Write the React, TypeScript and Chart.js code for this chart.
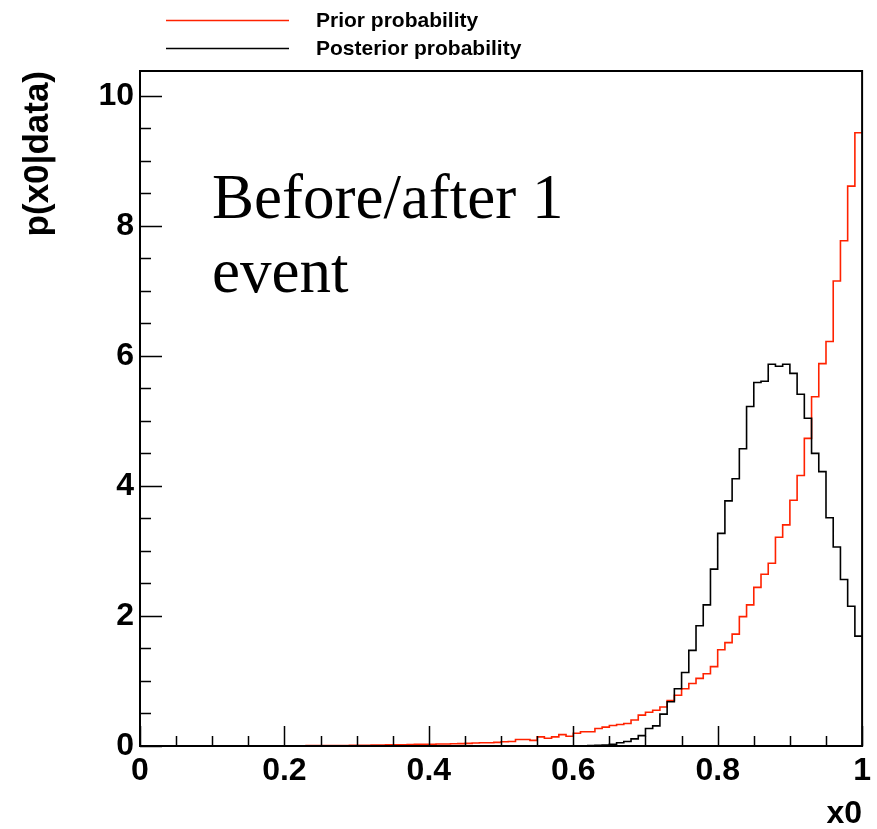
import React, { useEffect, useRef } from 'react';
import { Chart, registerables } from 'chart.js';

Chart.register(...registerables);

// ---- data ----
const X_MIN = 0;
const X_MAX = 1;
const Y_MIN = 0;
const Y_MAX = 10.38;

const priorValues = [
  0.0004, 0.0005, 0.0005, 0.0006, 0.0007, 0.0008, 0.0008, 0.001, 0.0011, 0.0012,
  0.0013, 0.0015, 0.0017, 0.0018, 0.002, 0.0023, 0.0025, 0.0028, 0.003, 0.0034,
  0.0038, 0.0042, 0.0047, 0.0052, 0.0058, 0.0063, 0.007, 0.0078, 0.0086, 0.0095,
  0.011, 0.012, 0.013, 0.015, 0.017, 0.018, 0.02, 0.022, 0.025, 0.026,
  0.028, 0.03, 0.031, 0.035, 0.036, 0.04, 0.045, 0.05, 0.05, 0.056,
  0.065, 0.07, 0.10, 0.10, 0.087, 0.14, 0.12, 0.14, 0.175, 0.15,
  0.195, 0.22, 0.22, 0.27, 0.29, 0.315, 0.33, 0.345, 0.40, 0.475,
  0.52, 0.55, 0.60, 0.70, 0.78, 0.88, 0.96, 1.04, 1.11, 1.22,
  1.48, 1.59, 1.72, 1.99, 2.17, 2.44, 2.64, 2.81, 3.21, 3.40,
  3.78, 4.16, 4.73, 5.37, 5.88, 6.22, 7.15, 7.77, 8.61, 9.43,
];

const posteriorValues = [
  0, 0, 0, 0, 0, 0, 0, 0, 0, 0,
  0, 0, 0, 0, 0, 0, 0, 0, 0, 0,
  0, 0, 0, 0, 0, 0, 0, 0, 0, 0,
  0, 0, 0, 0, 0, 0, 0, 0, 0, 0,
  0, 0, 0, 0, 0, 0, 0, 0, 0, 0,
  0, 0, 0, 0, 0, 0, 0, 0, 0, 0,
  0, 0.003, 0.005, 0.01, 0.015, 0.025, 0.05, 0.07, 0.11, 0.16,
  0.27, 0.31, 0.49, 0.68, 0.88, 1.13, 1.47, 1.85, 2.17, 2.72,
  3.27, 3.77, 4.11, 4.57, 5.22, 5.59, 5.61, 5.87, 5.84, 5.87,
  5.73, 5.41, 5.04, 4.50, 4.22, 3.51, 3.06, 2.56, 2.15, 1.69,
];

const xTickValues = [0, 0.2, 0.4, 0.6, 0.8, 1];
const yTickValues = [0, 2, 4, 6, 8, 10];
const X_MINOR_STEP = 0.05;
const Y_MINOR_STEP = 0.5;

const seriesLabels = ['Prior probability', 'Posterior probability'];
const seriesColors = ['#ff2200', '#000000'];
const annotationLines = ['Before/after 1', 'event'];
const xTitle = 'x0';
const yTitle = 'p(x0|data)';

function toSteps(values: number[]) {
  const w = (X_MAX - X_MIN) / values.length;
  const pts = values.map((v, i) => ({ x: X_MIN + i * w, y: v }));
  pts.push({ x: X_MAX, y: values[values.length - 1] });
  return pts;
}

const SANS = '"Liberation Sans", Arial, Helvetica, sans-serif';
const SERIF = '"Liberation Serif", "Times New Roman", serif';

const decorPlugin = {
  id: 'decor',
  afterDatasetsDraw(chart: any) {
    const { ctx, chartArea: a, scales } = chart;
    const x = scales.x;
    const y = scales.y;
    ctx.save();
    ctx.strokeStyle = '#000';
    ctx.lineWidth = 1.5;
    ctx.beginPath();
    // y ticks (inside)
    const nY = Math.round((yTickValues[yTickValues.length - 1] - Y_MIN) / Y_MINOR_STEP);
    for (let k = 0; k <= nY; k++) {
      const v = Y_MIN + k * Y_MINOR_STEP;
      if (v > Y_MAX) break;
      const py = Math.round(y.getPixelForValue(v)) + 0.5;
      const major = yTickValues.some((t) => Math.abs(t - v) < 1e-9);
      const len = major ? 22 : 11;
      ctx.moveTo(a.left, py);
      ctx.lineTo(a.left + len, py);
    }
    // x ticks (inside)
    const nX = Math.round((X_MAX - X_MIN) / X_MINOR_STEP);
    for (let k = 0; k <= nX; k++) {
      const v = X_MIN + k * X_MINOR_STEP;
      const px = Math.round(x.getPixelForValue(v)) + 0.5;
      const major = xTickValues.some((t) => Math.abs(t - v) < 1e-9);
      const len = major ? 20 : 10;
      ctx.moveTo(px, a.bottom);
      ctx.lineTo(px, a.bottom - len);
    }
    ctx.stroke();
    // frame
    ctx.lineWidth = 2;
    ctx.strokeRect(a.left, a.top, a.right - a.left, a.bottom - a.top);

    // legend
    ctx.font = `bold 21px ${SANS}`;
    ctx.textBaseline = 'alphabetic';
    ctx.textAlign = 'left';
    const legendY = [20.5, 48.5];
    seriesLabels.forEach((lab, i) => {
      ctx.strokeStyle = seriesColors[i];
      ctx.lineWidth = 1.5;
      ctx.beginPath();
      ctx.moveTo(166, legendY[i]);
      ctx.lineTo(289, legendY[i]);
      ctx.stroke();
      ctx.fillStyle = '#000';
      ctx.fillText(lab, 316, legendY[i] + 6.5);
    });

    // annotation
    ctx.font = `63px ${SERIF}`;
    ctx.fillStyle = '#000';
    annotationLines.forEach((t, i) => {
      ctx.fillText(t, 212, 218 + i * 74);
    });
    ctx.restore();
  },
};

export default function App() {
  const ref = useRef<HTMLCanvasElement | null>(null);

  useEffect(() => {
    if (!ref.current) return;
    const chart = new Chart(ref.current, {
      type: 'line',
      data: {
        datasets: [
          {
            label: seriesLabels[1],
            data: toSteps(posteriorValues),
            borderColor: seriesColors[1],
            borderWidth: 1.6,
            stepped: 'before',
            pointRadius: 0,
            fill: false,
            order: 0,
          },
          {
            label: seriesLabels[0],
            data: toSteps(priorValues),
            borderColor: seriesColors[0],
            borderWidth: 1.6,
            stepped: 'before',
            pointRadius: 0,
            fill: false,
            order: 1,
          },
        ],
      },
      options: {
        responsive: false,
        animation: false,
        parsing: false,
        layout: { padding: { left: 0, right: 13, top: 71, bottom: 0 } },
        plugins: {
          legend: { display: false },
          tooltip: { enabled: false },
        },
        scales: {
          x: {
            type: 'linear',
            min: X_MIN,
            max: X_MAX,
            grid: { display: false, drawTicks: false },
            border: { display: false },
            ticks: {
              color: '#000',
              font: { family: SANS, weight: 'bold', size: 32 },
              padding: 6,
              maxRotation: 0,
              autoSkip: false,
              callback: (v: any) => String(Number(Number(v).toFixed(2))),
            },
            title: {
              display: true,
              text: xTitle,
              align: 'end',
              color: '#000',
              font: { family: SANS, weight: 'bold', size: 32, lineHeight: 0.9 },
              padding: 0,
            },
            afterBuildTicks: (s: any) => {
              s.ticks = xTickValues.map((v) => ({ value: v }));
            },
            afterFit: (s: any) => {
              s.height = 83;
            },
          },
          y: {
            type: 'linear',
            min: Y_MIN,
            max: Y_MAX,
            grid: { display: false, drawTicks: false },
            border: { display: false },
            ticks: {
              color: '#000',
              font: { family: SANS, weight: 'bold', size: 32 },
              padding: 6,
              autoSkip: false,
              callback: (v: any) => String(v),
            },
            title: {
              display: true,
              text: yTitle,
              align: 'end',
              color: '#000',
              font: { family: SANS, weight: 'bold', size: 35, lineHeight: 1 },
              padding: { top: 21, bottom: 0 },
            },
            afterBuildTicks: (s: any) => {
              s.ticks = yTickValues.map((v) => ({ value: v }));
            },
            afterFit: (s: any) => {
              s.width = 140;
            },
          },
        },
      } as any,
      plugins: [decorPlugin],
    });
    return () => chart.destroy();
  }, []);

  return (
    <div style={{ position: 'absolute', left: 0, top: 0, width: 877, height: 829, background: '#fff' }}>
      <canvas ref={ref} width={877} height={829} style={{ display: 'block', width: 877, height: 829 }} />
    </div>
  );
}
